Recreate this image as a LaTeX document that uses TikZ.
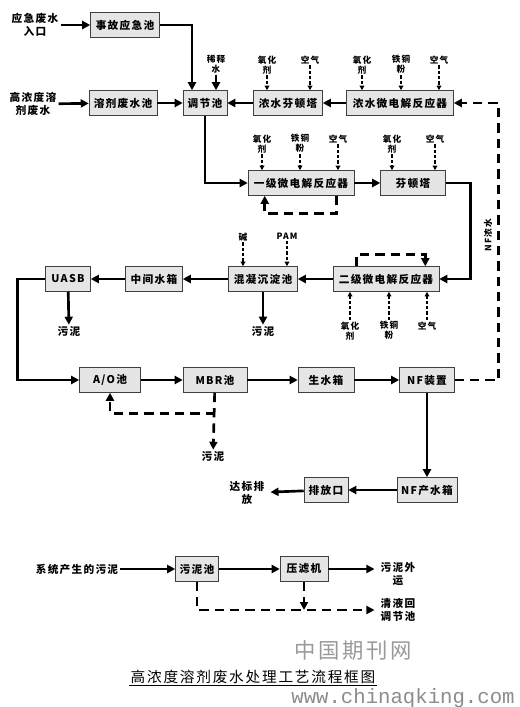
\documentclass[tikz,border=0pt]{standalone}
\usepackage{fontspec}
\newfontfamily\cjk[LetterSpace=12]{Noto Sans CJK SC}
\newfontfamily\wwwfont{Liberation Mono}
\usetikzlibrary{arrows.meta,calc}

\begin{document}
\begin{tikzpicture}[x=0.75pt,y=-0.75pt,
		box/.style={draw=black!75,fill=black!10,minimum height=18.75pt,inner sep=1pt,font=\cjk\bfseries\fontsize{8}{9}\selectfont},
		txt/.style={align=center,inner sep=1.5pt,font=\cjk\bfseries\fontsize{8}{10}\selectfont},
		lbl/.style={align=center,inner sep=1pt,font=\cjk\bfseries\fontsize{6.5}{7.5}\selectfont},
		flow/.style={line width=2pt,-{Triangle[length=6pt,width=6pt]}},
		ret/.style={line width=2pt,dash pattern=on 7pt off 4.5pt,-{Triangle[length=6pt,width=6pt]}},
		feed/.style={line width=0.9pt,dash pattern=on 2.5pt off 1.5pt,-{Triangle[length=3.5pt,width=3.5pt]}}]
				\useasboundingbox[fill=white] (0,0) rectangle (519,707);

				\node [txt] (in1) at (35,25) {应急废水\\入口};
				\node [box,minimum width=51.75pt] (acc) at (125,25) {事故应急池};
				\node [txt] (in2) at (33,104) {高浓度溶\\剂废水};
				\node [box,minimum width=51pt] (sw) at (123,103) {溶剂废水池};
				\node [box,minimum width=33pt] (tj) at (205,103) {调节池};
				\node [box,minimum width=51.75pt] (nft) at (288,103) {浓水芬顿塔};
				\node [box,minimum width=80.25pt] (nwd) at (400,103) {浓水微电解反应器};
				\node [box,minimum width=79.5pt] (wd1) at (301,183) {一级微电解反应器};
				\node [box,minimum width=48.75pt] (ft) at (413,183) {芬顿塔};
				\node [box,minimum width=79.5pt] (wd2) at (386,279) {二级微电解反应器};
				\node [box,minimum width=51.75pt] (hn) at (263,279) {混凝沉淀池};
				\node [box,minimum width=42.75pt] (zj) at (154,279) {中间水箱};
				\node [box,minimum width=33.75pt] (uasb) at (68,279) {UASB};
				\node [box,minimum width=45.75pt] (ao) at (110,380) {A/O池};
				\node [box,minimum width=48pt] (mbr) at (215,380) {MBR池};
				\node [box,minimum width=42pt] (ss) at (326,380) {生水箱};
				\node [box,minimum width=41.25pt] (nf) at (427,380) {NF装置};
				\node [box,minimum width=45pt] (nfc) at (427,490) {NF产水箱};
				\node [box,minimum width=33pt] (pf) at (326,490) {排放口};
				\node [txt] (dbp) at (247,493) {达标排\\放};

				\node [lbl] (xsw) at (216,64) {稀释\\水};
				\node [lbl,anchor=north] (a1) at (267,54) {氧化\\剂};
				\node [lbl,anchor=north] (a2) at (310,54) {空气};
				\node [lbl,anchor=north] (b1) at (362,54) {氧化\\剂};
				\node [lbl,anchor=north] (b2) at (401,54) {铁铜\\粉};
				\node [lbl,anchor=north] (b3) at (439,54) {空气};
				\node [lbl,anchor=north] (c1) at (262,133) {氧化\\剂};
				\node [lbl,anchor=north] (c2) at (300,133) {铁铜\\粉};
				\node [lbl,anchor=north] (c3) at (338,133) {空气};
				\node [lbl,anchor=north] (d1) at (392,133) {氧化\\剂};
				\node [lbl,anchor=north] (d2) at (435,133) {空气};
				\node [lbl,anchor=north] (e1) at (243,231) {碱};
				\node [lbl,anchor=north] (e2) at (287,231) {PAM};
				\node [lbl,anchor=north] (f1) at (350,320) {氧化\\剂};
				\node [lbl,anchor=north] (f2) at (389,320) {铁铜\\粉};
				\node [lbl,anchor=north] (f3) at (427,320) {空气};
				\node [lbl,rotate=90] (nfw) at (488,235) {NF浓水};

				\node [txt] (s1) at (69,332) {污泥};
				\node [txt] (s2) at (263,332) {污泥};
				\node [txt] (s3) at (213,457) {污泥};

				\draw [flow] (in1) -- (acc);
				\draw [flow] (acc.east) -| ($(tj.north)+(-13,0)$);
				\draw [flow] (in2) -- (sw);
				\draw [flow] (sw) -- (tj);
				\draw [flow] (xsw.south) -- (xsw.south |- tj.north);
				\draw [flow] (nft) -- (tj);
				\draw [flow] (nwd) -- (nft);
				\draw [ret] (nf.east) -- ++(44,0) |- (nwd.east);
				\draw [flow] (tj.south) |- (wd1.west);
				\draw [flow] (wd1) -- (ft);
				\draw [flow] (ft.east) -- ++(25,0) |- (wd2.east);
				\draw [flow] (wd2) -- (hn);
				\draw [flow] (hn) -- (zj);
				\draw [flow] (zj) -- (uasb);
				\draw [flow] (uasb.west) -- ++(-28,0) |- (ao.west);
				\draw [flow] (ao) -- (mbr);
				\draw [flow] (mbr) -- (ss);
				\draw [flow] (ss) -- (nf);
				\draw [flow] (nf) -- (nfc);
				\draw [flow] (nfc) -- (pf);
				\draw [flow,shorten >=3pt] (pf) -- (dbp);
				\draw [flow] (uasb) -- (s1);
				\draw [flow] (hn) -- (s2);
				\draw [ret] (mbr) -- (s3);
				\draw [ret] ($(mbr.south)+(0,21)$) -| (ao.south);
				\draw [ret] ($(wd1.south east)+(-18,0)$) -- ++(0,18) -| ($(wd1.south west)+(17,0)$);
				\draw [ret] ($(wd2.north west)+(24,0)$) -- ++(0,-12) -| ($(wd2.north east)+(-14,0)$);

				\foreach \f/\b in {a1/nft,a2/nft,b1/nwd,b2/nwd,b3/nwd,c1/wd1,c2/wd1,c3/wd1,d1/ft,d2/ft,e1/hn,e2/hn}
					\draw [feed] (\f.south) -- (\f.south |- \b.north);
				\foreach \f in {f1,f2,f3}
					\draw [feed] (\f.north) -- (\f.north |- wd2.south);

				\node [txt] (sys) at (77,569) {系统产生的污泥};
				\node [box,minimum width=32.25pt] (wnc) at (197,569) {污泥池};
				\node [box,minimum width=36pt] (ylj) at (304,569) {压滤机};
				\node [txt] (wy) at (398,574) {污泥外\\运};
				\node [txt] (qy) at (398,610) {清液回\\调节池};
				\draw [flow] (sys) -- (wnc);
				\draw [flow] (wnc) -- (ylj);
				\draw [flow,shorten >=3pt] (ylj.east) -- (ylj.east -| wy.west);
				\draw [ret,shorten >=3pt] (wnc.south) |- (qy.west);
				\draw [ret] (ylj.south) -- (ylj.south |- qy.west);

				\node [font=\cjk\fontsize{16}{18}\selectfont,text=black!40] (wm) at (353,650) {中国期刊网};
				\node [font=\cjk\fontsize{11}{13}\selectfont,inner sep=1pt] (title) at (253,677) {高浓度溶剂废水处理工艺流程框图};
				\draw [line width=0.8pt] (title.south west) -- (title.south east);
				\node [font=\wwwfont\fontsize{15.5}{17}\selectfont,text=black!45] (web) at (403,698) {www.chinaqking.com};
			\end{tikzpicture}
\end{document}
